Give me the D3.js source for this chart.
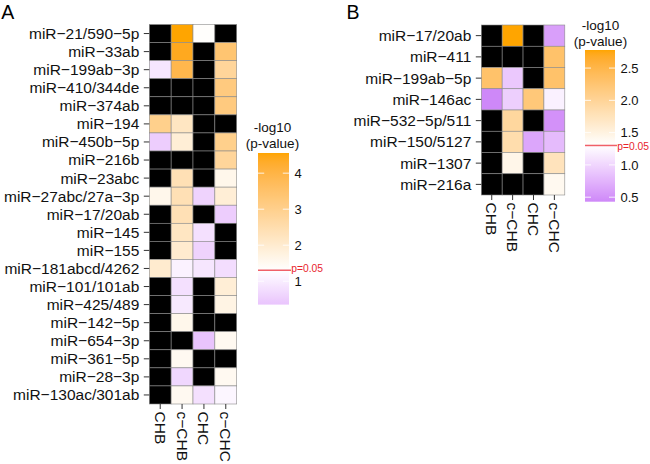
<!DOCTYPE html>
<html>
<head>
<meta charset="utf-8">
<script src="https://cdn.jsdelivr.net/npm/d3@7"></script>
<style>
  html, body { margin: 0; padding: 0; background: #fff; }
  svg { display: block; font-family: "Liberation Sans", Arial, Helvetica, sans-serif; }
</style>
</head>
<body>
<svg id="chart" width="650" height="464"></svg>
<script>
// ---------- data ----------
const columns = ["CHB", "c\u2212CHB", "CHC", "c\u2212CHC"];

const rowsA = ["miR\u221221/590\u22125p", "miR\u221233ab", "miR\u2212199ab\u22123p", "miR\u2212410/344de",
  "miR\u2212374ab", "miR\u2212194", "miR\u2212450b\u22125p", "miR\u2212216b", "miR\u221223abc",
  "miR\u221227abc/27a\u22123p", "miR\u221217/20ab", "miR\u2212145", "miR\u2212155",
  "miR\u2212181abcd/4262", "miR\u2212101/101ab", "miR\u2212425/489", "miR\u2212142\u22125p",
  "miR\u2212654\u22123p", "miR\u2212361\u22125p", "miR\u221228\u22123p", "miR\u2212130ac/301ab"];

// -log10(p-value); null = not available (drawn black)
const chbA  = [null, null, 0.9, null, null, 3.0, 0.5, null, null, 1.6, null, null, null, 2.0, null, null, null, null, null, null, null];
const cchbA = [4.56, 4.4, 3.9, null, null, 2.2, 1.9, null, 2.4, 2.4, 2.4, 2.2, 2.0, 1.1, 0.8, 0.95, 1.6, null, 1.5, 0.65, 1.5];
const chcA  = [1.35, null, null, null, null, null, null, null, null, 0.6, null, 0.8, 0.6, 0.9, null, null, null, 0.35, null, null, 0.8];
const cchcA = [null, 3.4, 2.8, 3.2, 3.2, null, 3.0, 2.8, 1.6, 1.9, 0.5, null, null, 0.75, 1.9, 1.7, null, 1.5, null, 1.5, 1.15];
const breaksA = [1, 2, 3, 4];

const rowsB = ["miR\u221217/20ab", "miR\u2212411", "miR\u2212199ab\u22125p", "miR\u2212146ac",
  "miR\u2212532\u22125p/511", "miR\u2212150/5127", "miR\u22121307", "miR\u2212216a"];
const chbB  = [null, null, 2.3, 0.43, null, null, null, null];
const cchbB = [2.78, null, 0.9, 0.95, 1.95, 1.85, 1.45, null];
const chcB  = [null, null, null, 2.2, null, 0.65, null, null];
const cchcB = [0.6, 2.3, 2.3, 1.2, 0.5, 0.8, 1.75, 1.4];
const breaksB = [0.5, 1.0, 1.5, 2.0, 2.5];

const pThreshold = 0.05;

// ---------- drawing ----------
const svg = d3.select("#chart");
const mid = -Math.log10(pThreshold);
const HIGH = "#FFA500", LOW = "#A020F0", MIDC = "#FFFFFF";

function makeColor(ext) {
  const md = Math.max(ext[1] - mid, mid - ext[0]);
  const hi = d3.interpolateLab(MIDC, HIGH), lo = d3.interpolateLab(MIDC, LOW);
  return v => v >= mid ? hi((v - mid) / md) : lo((mid - v) / md);
}

function panel(cfg) {
  const g = svg.append("g");
  const data = [];
  cfg.values.forEach((col, ci) => col.forEach((v, ri) => data.push({ row: cfg.rows[ri], col: columns[ci], v })));
  const ext = d3.extent(data.filter(d => d.v !== null), d => d.v);
  const color = makeColor(ext);

  const x = d3.scaleBand().domain(columns).range([cfg.x0, cfg.x1]);
  const y = d3.scaleBand().domain(cfg.rows).range([cfg.y0, cfg.y1]);

  g.selectAll("rect.cell").data(data).join("rect")
    .attr("class", "cell")
    .attr("x", d => x(d.col)).attr("y", d => y(d.row))
    .attr("width", x.bandwidth()).attr("height", y.bandwidth())
    .attr("fill", d => d.v === null ? "#000" : color(d.v))
    .attr("stroke", "#8a8a8a").attr("stroke-width", 0.6);

  // left axis
  const ya = g.append("g").attr("transform", `translate(${cfg.x0},0)`)
    .call(d3.axisLeft(y).tickSize(5.5).tickPadding(4.5));
  ya.select(".domain").remove();
  ya.selectAll("line").attr("stroke", "#333").attr("stroke-width", 1);
  ya.selectAll("text").attr("fill", "#111").style("font-size", "15.5px").attr("dy", "0.35em");

  // bottom axis
  const xa = g.append("g").attr("transform", `translate(0,${cfg.y1})`)
    .call(d3.axisBottom(x).tickSize(5).tickPadding(3));
  xa.select(".domain").remove();
  xa.selectAll("line").attr("stroke", "#333").attr("stroke-width", 1);
  xa.selectAll("text").attr("fill", "#111").style("font-size", "15.5px")
    .attr("x", 0).attr("y", 0).attr("dy", "0.35em")
    .attr("transform", "translate(0,7.5) rotate(90)")
    .style("text-anchor", "start");

  // legend
  const L = cfg.legend;
  const ly = d3.scaleLinear().domain(ext).range([L.y + L.h, L.y]);
  const gid = "grad" + cfg.letter;
  const grad = svg.append("defs").append("linearGradient").attr("id", gid)
    .attr("x1", 0).attr("y1", 1).attr("x2", 0).attr("y2", 0);
  d3.range(0, 1.0001, 0.02).forEach(t => {
    grad.append("stop").attr("offset", t).attr("stop-color", color(ext[0] + t * (ext[1] - ext[0])));
  });
  g.append("rect").attr("x", L.x).attr("y", L.y).attr("width", L.w).attr("height", L.h)
    .attr("fill", `url(#${gid})`);
  const tl = L.w / 5;
  cfg.breaks.forEach(b => {
    const yy = ly(b);
    g.append("line").attr("x1", L.x).attr("x2", L.x + tl).attr("y1", yy).attr("y2", yy)
      .attr("stroke", "#fff").attr("stroke-width", 1).attr("opacity", 0.85);
    g.append("line").attr("x1", L.x + L.w - tl).attr("x2", L.x + L.w).attr("y1", yy).attr("y2", yy)
      .attr("stroke", "#fff").attr("stroke-width", 1).attr("opacity", 0.85);
    g.append("text").attr("x", L.x + L.w + 5.5).attr("y", yy).attr("dy", "0.36em")
      .style("font-size", "13px").attr("fill", "#111").text(cfg.fmt(b));
  });
  const py = ly(mid);
  g.append("line").attr("x1", L.x).attr("x2", L.x + L.w + 2).attr("y1", py).attr("y2", py)
    .attr("stroke", "#f06068").attr("stroke-width", 1.5);
  g.append("text").attr("x", L.x + L.w + 2.3).attr("y", py).attr("dy", L.pdy)
    .style("font-size", "10.3px").attr("fill", "#e8242c").text("p=" + pThreshold);

  const cx = L.x + L.w / 2 + L.tdx;
  g.append("text").attr("x", cx).attr("y", L.t1).attr("text-anchor", "middle")
    .style("font-size", "13.5px").attr("fill", "#111").text("-log10");
  g.append("text").attr("x", cx).attr("y", L.t2).attr("text-anchor", "middle")
    .style("font-size", "13.5px").attr("fill", "#111").text("(p-value)");

  // panel letter
  svg.append("text").attr("x", cfg.lx).attr("y", 18.5).style("font-size", "19.5px")
    .attr("fill", "#000").text(cfg.letter);
}

panel({
  letter: "A", lx: 1.2,
  rows: rowsA, values: [chbA, cchbA, chcA, cchcA],
  x0: 149.3, x1: 236.7, y0: 24.5, y1: 404,
  breaks: breaksA, fmt: d3.format("d"),
  legend: { x: 258, y: 153, w: 31, h: 151.6, t1: 131.5, t2: 148, tdx: -1, pdy: "0.2em" }
});

panel({
  letter: "B", lx: 346.5,
  rows: rowsB, values: [chbB, cchbB, chcB, cchcB],
  x0: 481.3, x1: 564.8, y0: 25, y1: 195,
  breaks: breaksB, fmt: d3.format(".1f"),
  legend: { x: 585, y: 50, w: 30, h: 151.7, t1: 29.5, t2: 45.5, tdx: 0.5, pdy: "0.42em" }
});
</script>
</body>
</html>
